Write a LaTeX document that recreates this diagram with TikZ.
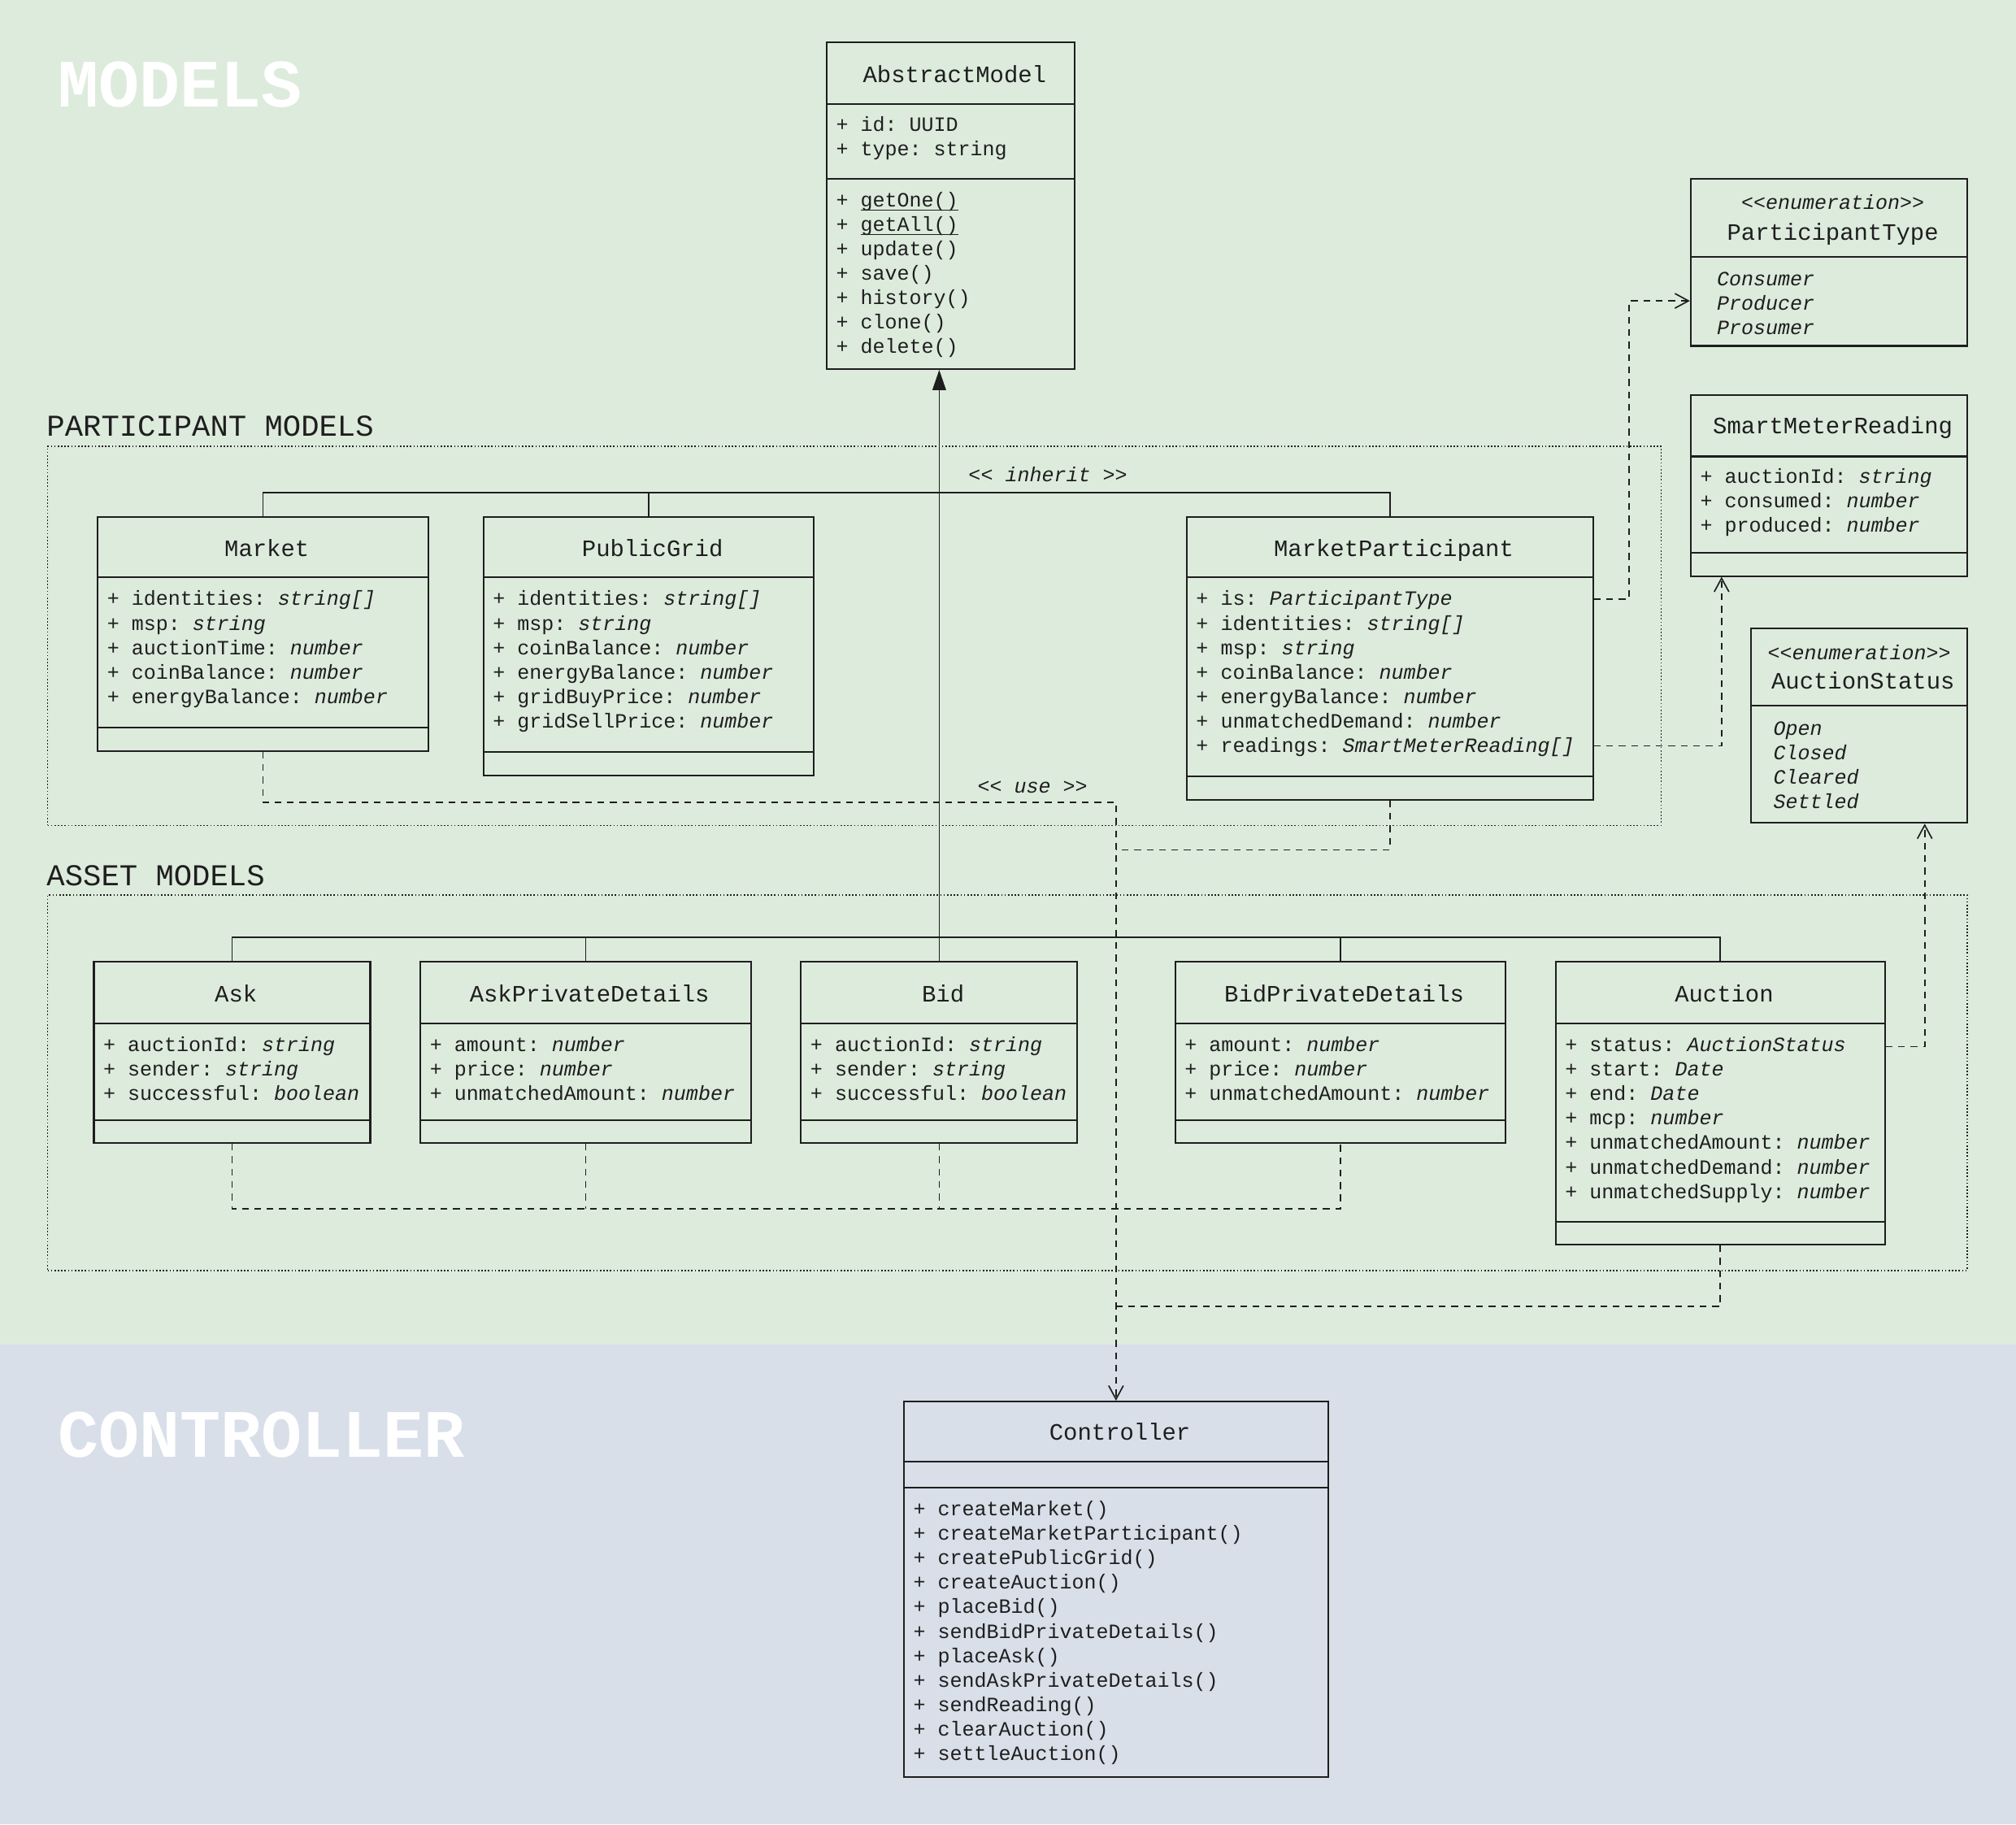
\documentclass[tikz,border=0pt]{standalone}
\usepackage{fontspec}
\setmainfont{Liberation Mono}
\usetikzlibrary{arrows.meta,fit}
\definecolor{bggreen}{HTML}{DDEBDD}
\definecolor{bgblue}{HTML}{D8DFE9}
\definecolor{ink}{HTML}{1E1E1E}
\frenchspacing
\tikzset{
 box/.style={draw=ink, line width=0.75pt, inner sep=0pt},
 sep/.style={draw=ink, line width=0.75pt},
 txt/.style={anchor=base west, inner sep=0pt, text=ink, font=\fontsize{9}{11}\selectfont},
 cname/.style={anchor=base, inner sep=0pt, text=ink, font=\fontsize{10.4}{12}\selectfont},
 stereo/.style={anchor=base, inner sep=0pt, text=ink, font=\fontsize{9}{11}\selectfont\itshape},
 grp/.style={draw=ink, line width=0.6pt, inner sep=0pt, dash pattern=on 0.6pt off 0.9pt},
 grplabel/.style={anchor=base west, inner sep=0pt, text=ink, font=\fontsize{13.4}{16}\selectfont},
 title/.style={anchor=base west, inner sep=0pt, text=white, font=\fontsize{30}{36}\selectfont\bfseries},
 inh/.style={draw=ink, line width=0.6pt},
 use/.style={draw=ink, line width=0.6pt, dash pattern=on 3pt off 2.5pt},
 openarr/.style={-{Straight Barb[length=6pt,width=6.5pt,line width=0.6pt]}},
 lbl/.style={anchor=center, inner sep=0pt, text=ink, font=\fontsize{9}{11}\selectfont\itshape},
}
\newcommand\ulmono[1]{\setbox0\hbox{#1}\rlap{\rule[-1.6pt]{\wd0}{0.5pt}}#1}
\newcommand\umlbox[5]{\node[box, fit={(#2,#3)(#4,#5)}] (#1) {};}
\newcommand\hsep[2]{\draw[sep] (#1.west |- 0,#2) -- (#1.east |- 0,#2);}
\newcommand\attrlines[4]{\foreach \tx [count=\i from 0] in {#4} {\node[txt] (#1-\i) at (#2,#3+19*\i+5) {\tx};}}
\newcommand\cnm[3]{\node[cname, xshift=0.06cm] (#1-n) at (#1.north |- 0,#2) {#3};}
\begin{document}
\begin{tikzpicture}[x=0.02cm,y=-0.02cm]
\fill[bggreen] (0,0) rectangle (1568,1046);
\fill[bgblue] (0,1046) rectangle (1568,1419);
\useasboundingbox (0,0) rectangle (1568,1419);

% titles
\node[title] (tmodels) at (45,83) {MODELS};
\node[title] (tctrl) at (45,1133) {CONTROLLER};

% groups
\node[grp, fit={(37,347)(1292,642)}] (gpart) {};
\node[grp, fit={(37,696)(1530,988)}] (gasset) {};
\node[grplabel] (lpart) at (36,339) {PARTICIPANT MODELS};
\node[grplabel] (lasset) at (36,689) {ASSET MODELS};

% AbstractModel
\umlbox{am}{643}{33}{836}{287}
\cnm{am}{64}{AbstractModel}
\hsep{am}{81}\hsep{am}{139}
\attrlines{ama}{650}{97}{{+ id: UUID},{+ type: string}}
\attrlines{amm}{650}{156}{{+ \ulmono{getOne()}},{+ \ulmono{getAll()}},{+ update()},{+ save()},{+ history()},{+ clone()},{+ delete()}}

% ParticipantType
\umlbox{ptype}{1315}{139}{1530}{269}
\node[stereo, xshift=0.06cm] (ptype-s) at (ptype.north |- 0,163) {<{}<enumeration>{}>};
\cnm{ptype}{187}{ParticipantType}
\hsep{ptype}{200}
\attrlines{pta}{1335}{217}{{\textit{Consumer}},{\textit{Producer}},{\textit{Prosumer}}}

% SmartMeterReading
\umlbox{smr}{1315}{307}{1530}{448}
\cnm{smr}{337}{SmartMeterReading}
\hsep{smr}{355}\hsep{smr}{430}
\attrlines{smra}{1322}{371}{{+ auctionId: \textit{string}},{+ consumed: \textit{number}},{+ produced: \textit{number}}}

% AuctionStatus
\umlbox{astatus}{1362}{489}{1530}{640}
\node[stereo] (astatus-s) at (astatus.north |- 0,513) {<{}<enumeration>{}>};
\cnm{astatus}{536}{AuctionStatus}
\hsep{astatus}{549}
\attrlines{asa}{1379}{567}{{\textit{Open}},{\textit{Closed}},{\textit{Cleared}},{\textit{Settled}}}

% Market
\umlbox{market}{76}{402}{333}{584}
\cnm{market}{433}{Market}
\hsep{market}{449}\hsep{market}{566}
\attrlines{mka}{83}{466}{{+ identities: \textit{string[]}},{+ msp: \textit{string}},{+ auctionTime: \textit{number}},{+ coinBalance: \textit{number}},{+ energyBalance: \textit{number}}}

% PublicGrid
\umlbox{pgrid}{376}{402}{633}{603}
\cnm{pgrid}{433}{PublicGrid}
\hsep{pgrid}{449}\hsep{pgrid}{585}
\attrlines{pga}{383}{466}{{+ identities: \textit{string[]}},{+ msp: \textit{string}},{+ coinBalance: \textit{number}},{+ energyBalance: \textit{number}},{+ gridBuyPrice: \textit{number}},{+ gridSellPrice: \textit{number}}}

% MarketParticipant
\umlbox{mp}{923}{402}{1239}{622}
\cnm{mp}{433}{MarketParticipant}
\hsep{mp}{449}\hsep{mp}{604}
\attrlines{mpa}{930}{466}{{+ is: \textit{ParticipantType}},{+ identities: \textit{string[]}},{+ msp: \textit{string}},{+ coinBalance: \textit{number}},{+ energyBalance: \textit{number}},{+ unmatchedDemand: \textit{number}},{+ readings: \textit{SmartMeterReading[]}}}

% Ask
\umlbox{ask}{73}{748}{288}{889}
\cnm{ask}{779}{Ask}
\hsep{ask}{796}\hsep{ask}{871}
\attrlines{aska}{80}{813}{{+ auctionId: \textit{string}},{+ sender: \textit{string}},{+ successful: \textit{boolean}}}

% AskPrivateDetails
\umlbox{apd}{327}{748}{584}{889}
\cnm{apd}{779}{AskPrivateDetails}
\hsep{apd}{796}\hsep{apd}{871}
\attrlines{apda}{334}{813}{{+ amount: \textit{number}},{+ price: \textit{number}},{+ unmatchedAmount: \textit{number}}}

% Bid
\umlbox{bid}{623}{748}{838}{889}
\cnm{bid}{779}{Bid}
\hsep{bid}{796}\hsep{bid}{871}
\attrlines{bida}{630}{813}{{+ auctionId: \textit{string}},{+ sender: \textit{string}},{+ successful: \textit{boolean}}}

% BidPrivateDetails
\umlbox{bpd}{914}{748}{1171}{889}
\cnm{bpd}{779}{BidPrivateDetails}
\hsep{bpd}{796}\hsep{bpd}{871}
\attrlines{bpda}{921}{813}{{+ amount: \textit{number}},{+ price: \textit{number}},{+ unmatchedAmount: \textit{number}}}

% Auction
\umlbox{auction}{1210}{748}{1466}{968}
\cnm{auction}{779}{Auction}
\hsep{auction}{796}\hsep{auction}{950}
\attrlines{auca}{1217}{813}{{+ status: \textit{AuctionStatus}},{+ start: \textit{Date}},{+ end: \textit{Date}},{+ mcp: \textit{number}},{+ unmatchedAmount: \textit{number}},{+ unmatchedDemand: \textit{number}},{+ unmatchedSupply: \textit{number}}}

% Controller
\umlbox{controller}{703}{1090}{1033}{1382}
\cnm{controller}{1120}{Controller}
\hsep{controller}{1137}\hsep{controller}{1157}
\attrlines{ctm}{710}{1174}{{+ createMarket()},{+ createMarketParticipant()},{+ createPublicGrid()},{+ createAuction()},{+ placeBid()},{+ sendBidPrivateDetails()},{+ placeAsk()},{+ sendAskPrivateDetails()},{+ sendReading()},{+ clearAuction()},{+ settleAuction()}}

% inheritance
\coordinate (pbus) at (731,383);
\coordinate (abus) at (731,729);
\draw[inh] (market.north) |- (pbus) -| (mp.north);
\draw[inh] (pgrid.north) -- (pgrid.north |- pbus);
\draw[inh] (ask.north) |- (abus) -| (auction.north);
\draw[inh] (apd.north) -- (apd.north |- abus);
\draw[inh] (bpd.north) -- (bpd.north |- abus);
\draw[inh, -{Triangle[length=9pt,width=6pt]}] (bid.north) -- (bid.north |- am.south);
\node[lbl] (linh) at (815,369) {<{}< inherit >{}>};

% use
\draw[use, openarr] (market.south) |- (controller.north |- 0,624) -- (controller.north);
\draw[use] (mp.south) |- (controller.north |- 0,661);
\draw[use] (ask.south) |- (bpd.south |- 0,940) -- (bpd.south);
\draw[use] (apd.south) -- (apd.south |- 0,940);
\draw[use] (bid.south) -- (bid.south |- 0,940);
\draw[use] (auction.south) |- (controller.north |- 0,1016);
\node[lbl] (luse) at (803,612) {<{}< use >{}>};

% dependencies to enums / readings
\coordinate (ptbend) at (1267,234);
\draw[use, openarr] (mp.east |- 0,466) -| (ptbend) -- (ptype.west |- ptbend);
\draw[use, openarr] (mp.east |- 0,580) -| (smr.south -| 1339,0);
\draw[use, openarr] (auction.east |- 0,814) -| (astatus.south -| 1497,0);
\end{tikzpicture}
\end{document}
